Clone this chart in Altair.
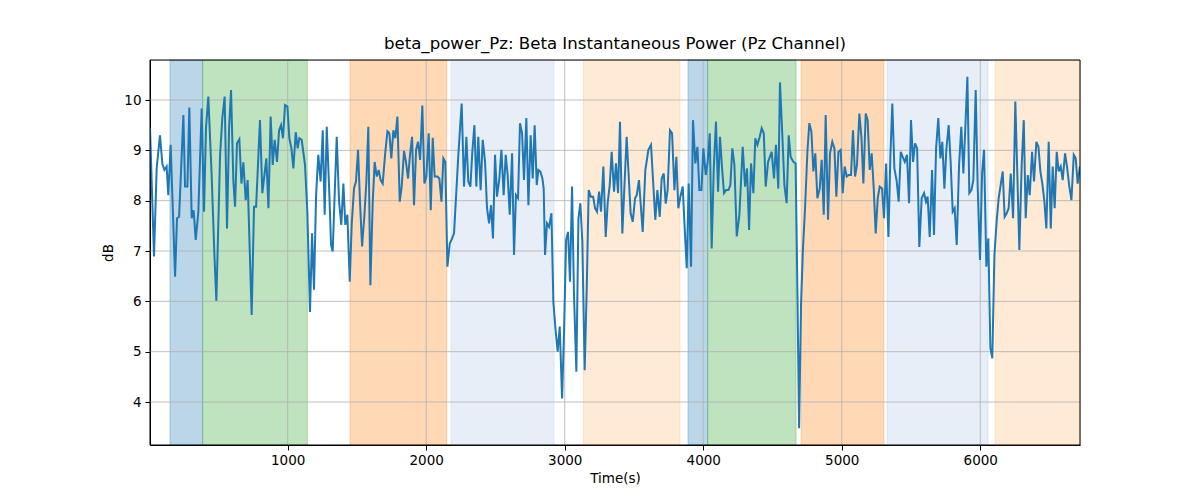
import altair as alt
import pandas as pd

# ---- data ----
time_s = [
    6, 35, 54, 78, 95, 110, 126, 138, 155, 187, 201, 216, 247, 259, 276, 290, 307, 321, 336, 355,
    379, 396, 410, 427, 451, 471, 485, 512, 528, 545, 562, 577, 591, 608, 620, 634, 651, 666, 680, 697,
    711, 740, 757, 772, 800, 817, 832, 846, 861, 877, 892, 906, 923, 938, 952, 966, 981, 998, 1012, 1027,
    1041, 1058, 1072, 1084, 1101,
    1125, 1142, 1161, 1176, 1190, 1205, 1221, 1238, 1253, 1267, 1282, 1301, 1313, 1325, 1339, 1354, 1371,
    1387, 1402, 1416, 1431, 1448, 1462, 1479, 1493, 1508, 1522, 1537, 1554, 1568, 1582, 1597, 1614, 1628,
    1643, 1657, 1671, 1686, 1703, 1720, 1734, 1748, 1763, 1777, 1792, 1809, 1823, 1840, 1854, 1869, 1883,
    1898, 1912, 1927, 1941, 1956, 1972, 1987, 2001, 2018, 2033, 2047, 2061, 2081, 2095, 2110, 2124, 2138,
    2153, 2170, 2187, 2201,
    2232, 2256, 2273, 2290, 2304, 2319, 2333, 2348, 2362, 2376, 2393, 2408, 2425, 2439, 2454, 2468, 2482,
    2497, 2511, 2528, 2543, 2559, 2574, 2588, 2603, 2620, 2634, 2648, 2663, 2677, 2692, 2706, 2723, 2738,
    2754, 2769, 2783, 2798, 2810, 2824, 2839, 2848, 2858, 2872, 2887, 2904, 2918, 2933, 2949, 2964, 2981,
    2995, 3010, 3024, 3038, 3053, 3067, 3084, 3099, 3113, 3127, 3144, 3159, 3173, 3188, 3205, 3219, 3233,
    3248, 3262, 3279, 3296, 3310, 3325, 3339, 3356,
    3370, 3385, 3399, 3416, 3447, 3476, 3491, 3508, 3520, 3536, 3563, 3582, 3604, 3623, 3654, 3669, 3686,
    3700, 3715, 3729, 3743, 3760, 3775, 3792, 3806, 3820, 3835, 3852, 3866, 3881, 3895, 3912, 3926, 3943,
    3958, 3972, 3987, 4001, 4018, 4032, 4047, 4061, 4076, 4092, 4107, 4121, 4136, 4150, 4165, 4182, 4196,
    4210, 4225, 4242, 4261, 4285, 4302, 4316, 4331, 4345, 4362, 4376, 4391, 4408, 4422, 4437, 4451, 4468,
    4494, 4511, 4525, 4542, 4554, 4571, 4586, 4602, 4617, 4631, 4651, 4667, 4679, 4692, 4706, 4720, 4735,
    4752, 4766, 4781, 4795, 4809, 4824, 4841, 4855, 4870, 4884, 4901, 4915, 4932, 4947, 4961, 4976, 4992,
    5007, 5021, 5036, 5050, 5067, 5081, 5096, 5110, 5127, 5142, 5156, 5173, 5187, 5202, 5216, 5231, 5245,
    5260, 5274, 5291, 5305, 5320, 5337, 5351, 5365, 5380, 5397, 5411, 5426, 5440, 5455, 5471, 5486, 5500,
    5515, 5529, 5544, 5560, 5577,
    5594, 5608, 5620, 5635, 5652, 5666, 5681, 5697, 5712, 5726, 5741, 5755, 5772, 5786, 5801, 5815, 5830,
    5847, 5863, 5878, 5892, 5907, 5921, 5936, 5950, 5967, 5981, 5998, 6013, 6027, 6044, 6058, 6073, 6087,
    6102, 6119, 6133, 6162, 6176, 6191, 6205, 6220, 6237, 6253, 6268, 6282, 6299, 6314, 6328, 6343, 6357,
    6374, 6388, 6405, 6420, 6434, 6448, 6463, 6477, 6494, 6509, 6523, 6537, 6552, 6566, 6581, 6595, 6612,
    6626, 6643, 6658, 6675, 6689, 6703, 6720,
]
beta_db = [
    9.45, 6.89, 8.64, 9.30, 8.74, 8.61, 8.68, 8.11, 9.11, 6.49, 7.65, 7.68, 9.70, 8.28, 8.28, 9.85, 7.65, 7.81, 7.22, 7.78,
    9.83, 7.78, 9.44, 10.07, 8.51, 6.92, 6.01, 8.91, 9.64, 10.07, 7.45, 9.44, 10.20, 8.38, 7.88, 9.14, 9.22, 8.34, 8.76, 8.01,
    8.41, 5.73, 7.88, 7.88, 9.60, 8.15, 8.51, 8.84, 7.85, 9.67, 8.71, 9.21, 8.77, 9.40, 9.50, 9.24, 9.90, 9.87, 9.24, 9.04,
    8.64, 9.36, 9.04, 9.24, 9.21,
    8.71, 7.78, 5.79, 7.35, 6.23, 8.11, 8.91, 8.38, 9.40, 7.72, 9.47, 8.11, 7.12, 6.99, 8.11, 9.27, 7.98,
    7.52, 8.34, 7.52, 7.72, 6.39, 7.52, 8.25, 8.38, 9.01, 7.98, 7.09, 7.72, 8.38, 9.47, 6.32, 7.98, 8.77,
    8.48, 8.61, 8.41, 8.34, 8.91, 9.38, 9.34, 8.84, 9.40, 9.24, 9.67, 7.98, 8.28, 8.99, 8.77, 8.44, 8.91,
    9.27, 7.91, 9.01, 9.17, 8.81, 9.89, 8.34, 8.48, 9.34, 7.81, 9.25, 8.48, 8.48, 8.44, 7.98, 8.84, 8.77,
    6.69, 7.15, 7.25, 7.35,
    8.91, 9.93, 8.28, 9.27, 8.38, 8.28, 8.97, 9.50, 8.28, 9.27, 8.21, 9.21, 8.77, 7.85, 7.55, 7.91, 7.25,
    8.91, 8.08, 8.44, 9.01, 8.11, 8.91, 8.51, 7.72, 8.94, 6.92, 8.11, 8.05, 9.54, 9.34, 8.41, 9.64, 7.91,
    9.30, 8.44, 9.50, 8.31, 8.61, 8.58, 8.44, 8.25, 6.92, 7.55, 7.48, 7.75, 5.99, 5.46, 5.00, 5.50, 4.07,
    5.40, 7.22, 7.38, 6.39, 8.28, 6.13, 4.60, 7.65, 7.95, 7.19, 4.63, 6.26, 8.21, 8.08, 8.08, 7.85, 7.78,
    8.18, 7.78, 8.68, 7.28, 7.95, 8.31, 8.97, 8.18,
    8.74, 8.15, 9.57, 7.35, 9.27, 7.75, 7.58, 8.05, 8.11, 8.41, 7.38, 8.61, 9.01, 9.11, 7.62, 8.21, 7.68,
    8.44, 8.54, 7.94, 8.21, 9.40, 9.34, 8.21, 8.87, 7.85, 8.08, 8.28, 7.45, 6.66, 8.34, 6.69, 9.60, 8.74,
    9.07, 8.21, 8.21, 9.04, 8.51, 8.77, 9.34, 7.05, 8.64, 9.57, 8.18, 9.27, 8.64, 8.15, 8.21, 8.21, 8.31,
    9.04, 8.71, 7.29, 7.72, 9.07, 8.28, 8.64, 7.42, 8.74, 8.15, 9.24, 9.11, 9.27, 9.44, 9.34, 8.28, 8.77,
    8.97, 8.44, 9.11, 8.24, 10.35, 9.30, 8.31, 7.95, 9.30, 8.87, 8.77, 8.74, 6.39, 3.48, 5.93, 7.05, 7.85,
    8.97, 9.54, 9.37, 8.58, 8.94, 8.05, 8.24, 8.81, 7.72, 9.70, 7.62, 8.94, 9.17, 9.04, 8.08, 8.97, 9.01,
    8.15, 8.68, 8.48, 8.51, 8.51, 9.40, 8.48, 8.71, 9.73, 9.27, 8.34, 9.73, 9.60, 8.61, 8.94, 8.24, 7.35,
    8.05, 8.28, 8.24, 7.65, 8.74, 7.28, 8.87, 9.93, 8.64, 8.38, 7.98, 8.97, 8.87, 8.77, 8.91, 7.95, 9.60,
    8.77, 9.14, 9.04, 7.08, 8.05,
    8.15, 7.98, 8.08, 7.28, 8.61, 7.32, 9.04, 9.64, 8.84, 9.17, 8.24, 9.01, 9.50, 8.77, 7.78, 7.85, 7.12,
    8.71, 9.47, 8.54, 9.44, 10.46, 8.15, 8.21, 8.41, 10.20, 8.31, 6.82, 8.54, 9.01, 6.69, 7.25, 5.07, 4.87,
    6.92, 7.62, 8.05, 8.58, 7.68, 7.75, 7.85, 8.54, 7.65, 9.97, 8.48, 7.02, 8.71, 9.60, 7.65, 8.51, 8.11,
    8.97, 8.38, 9.17, 9.07, 8.58, 8.34, 7.98, 7.45, 9.17, 7.45, 8.68, 7.85, 8.97, 8.58, 8.68, 8.41, 8.94,
    8.68, 8.28, 8.01, 8.91, 8.84, 8.34, 8.68,
]

span_start = [150, 386, 1450, 2179, 3135, 3890, 4032, 4706, 5327, 6107]
span_end = [386, 1142, 2148, 2923, 3832, 4032, 4670, 5305, 6056, 6720]
span_color = ["#1f77b4", "#2ca02c", "#ff7f0e", "#aec7e8", "#ffbb78",
              "#1f77b4", "#2ca02c", "#ff7f0e", "#aec7e8", "#ffbb78"]

x_ticks = [1000, 2000, 3000, 4000, 5000, 6000]
y_ticks = [4, 5, 6, 7, 8, 9, 10]
x_domain = [6, 6720]
y_domain = [3.146, 10.795]

FONT = "DejaVu Sans"

line_df = pd.DataFrame({"t": time_s, "db": beta_db})
span_df = pd.DataFrame({"s": span_start, "e": span_end, "c": span_color})
xg_df = pd.DataFrame({"v": x_ticks})
yg_df = pd.DataFrame({"v": y_ticks})
frame_df = pd.DataFrame({"k": [0]})

xscale = alt.Scale(domain=x_domain, nice=False, zero=False)
yscale = alt.Scale(domain=y_domain, nice=False, zero=False)

x_axis = alt.Axis(values=x_ticks, title="Time(s)", grid=False, format="d",
                  tickSize=5, tickColor="black", domainColor="black", tickWidth=1, domainWidth=1,
                  labelFontSize=13.5, labelFont=FONT, labelColor="black", labelPadding=3,
                  titleFont=FONT, titleFontSize=13.5, titleFontWeight="normal", titleColor="black",
                  titlePadding=5)
y_axis = alt.Axis(values=y_ticks, title="dB", grid=False, format="d",
                  tickSize=5, tickColor="black", domainColor="black", tickWidth=1, domainWidth=1,
                  labelFontSize=13.5, labelFont=FONT, labelColor="black", labelPadding=4,
                  titleFont=FONT, titleFontSize=13.5, titleFontWeight="normal", titleColor="black",
                  titlePadding=8)

spans = alt.Chart(span_df).mark_rect(fillOpacity=0.3, strokeOpacity=0.3, strokeWidth=1).encode(
    x=alt.X("s:Q", scale=xscale, axis=x_axis),
    x2="e:Q",
    y=alt.value(0),
    y2=alt.value(385),
    fill=alt.Fill("c:N", scale=None),
    stroke=alt.Stroke("c:N", scale=None),
)

xgrid = alt.Chart(xg_df).mark_rule(color="#b0b0b0", strokeWidth=0.8).encode(
    x=alt.X("v:Q", scale=xscale), y=alt.value(0), y2=alt.value(385)
)
ygrid = alt.Chart(yg_df).mark_rule(color="#b0b0b0", strokeWidth=0.8).encode(
    y=alt.Y("v:Q", scale=yscale, axis=y_axis), x=alt.value(0), x2=alt.value(930)
)

line = alt.Chart(line_df).mark_line(color="#1f77b4", strokeWidth=2, clip=True).encode(
    x=alt.X("t:Q", scale=xscale),
    y=alt.Y("db:Q", scale=yscale),
)

frame = alt.Chart(frame_df).mark_rect(fillOpacity=0, stroke="black", strokeWidth=1).encode(
    x=alt.value(0), x2=alt.value(930), y=alt.value(0), y2=alt.value(385)
)

chart = alt.layer(spans, xgrid, ygrid, line, frame).properties(
    width=930, height=385,
    title=alt.TitleParams("beta_power_Pz: Beta Instantaneous Power (Pz Channel)",
                          font=FONT, fontSize=16.6, fontWeight="normal", color="black",
                          anchor="middle", frame="group", offset=7),
    autosize=alt.AutoSizeParams(type="none"),
    padding={"left": 142, "top": 52, "right": 100, "bottom": 40},
).configure_view(stroke=None).configure(background="white")

chart.save("out.html", embed_options={"renderer": "svg", "actions": False})
